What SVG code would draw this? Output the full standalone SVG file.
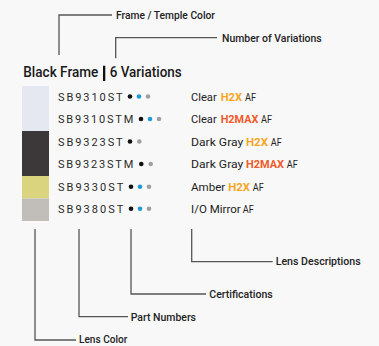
<svg xmlns="http://www.w3.org/2000/svg" width="379" height="346" viewBox="0 0 379 346">
<style>
.bg{fill:#f8f8f8}
.ln{fill:none;stroke:#555;stroke-width:1.3}
.lbl{font-family:Roboto,"Liberation Sans",sans-serif;font-size:10.5px;fill:#222;font-weight:500}
.ttl{font-family:Roboto,"Liberation Sans",sans-serif;font-size:14.5px;fill:#1a1a1a;font-weight:500}
.pn{font-family:Roboto,"Liberation Sans",sans-serif;font-size:11px;fill:#2a2a2a;font-weight:400}
.ds{font-family:Roboto,"Liberation Sans",sans-serif;font-size:11.5px;fill:#222}
.af{font-family:Roboto,"Liberation Sans",sans-serif;font-size:10px;fill:#222}
.h2x{font-family:Roboto,"Liberation Sans",sans-serif;font-size:11.5px;fill:#f7a51e;font-weight:bold}
.h2m{font-family:Roboto,"Liberation Sans",sans-serif;font-size:11.5px;fill:#f05a28;font-weight:bold}
.dk{fill:#111}.bl{fill:#1e9bd7}.gy{fill:#a0a0a0}
</style>
<rect class="bg" x="0" y="0" width="379" height="346"/>
<g id="connectors">
<polyline class="ln" points="59,55 59,15 112,15"/>
<polyline class="ln" points="115.7,58.3 115.7,37.7 217,37.7"/>
<polyline class="ln" points="35,229 35,340 76,340"/>
<polyline class="ln" points="79,229 79,316.7 128,316.7"/>
<polyline class="ln" points="131,229 131,294 206,294"/>
<polyline class="ln" points="191.7,229 191.7,261.7 272.7,261.7"/>
</g>
<g id="label-frame"><text class="lbl" x="116" y="19" textLength="99" lengthAdjust="spacingAndGlyphs">Frame / Temple Color</text></g>
<g id="label-variations"><text class="lbl" x="222" y="41.6" textLength="99.7" lengthAdjust="spacingAndGlyphs">Number of Variations</text></g>
<g id="label-desc"><text class="lbl" x="275.7" y="265" textLength="85" lengthAdjust="spacingAndGlyphs">Lens Descriptions</text></g>
<g id="label-cert"><text class="lbl" x="209.3" y="297.6" textLength="63.4" lengthAdjust="spacingAndGlyphs">Certifications</text></g>
<g id="label-part"><text class="lbl" x="130.7" y="320.5" textLength="65.3" lengthAdjust="spacingAndGlyphs">Part Numbers</text></g>
<g id="label-color"><text class="lbl" x="79" y="343.3" textLength="48.3" lengthAdjust="spacingAndGlyphs">Lens Color</text></g>
<g id="title">
<text class="ttl" x="23.3" y="77.3" textLength="75" lengthAdjust="spacingAndGlyphs">Black Frame</text>
<rect x="103" y="65.7" width="2.3" height="15.3" fill="#111"/>
<text class="ttl" x="109.7" y="77.3" textLength="72" lengthAdjust="spacingAndGlyphs">6 Variations</text>
</g>
<g id="swatches">
<rect x="22" y="86" width="27" height="45" fill="#e5e7f1"/>
<rect x="22" y="131" width="27" height="45" fill="#3c3839"/>
<rect x="22" y="176" width="27" height="22.5" fill="#dbd47e"/>
<rect x="22" y="198.5" width="27" height="22.5" fill="#c1beb9"/>
</g>
<g id="row1">
<text class="pn" x="58" y="100.7" textLength="64.7" lengthAdjust="spacing">SB9310ST</text>
<circle class="dk" cx="130" cy="96.5" r="2.3"/><circle class="bl" cx="139" cy="96.5" r="2.3"/><circle class="gy" cx="148" cy="96.5" r="2.3"/>
<text class="ds" x="191" y="101" textLength="25.7" lengthAdjust="spacingAndGlyphs">Clear</text>
<text class="h2x" x="220.7" y="101" textLength="21.3" lengthAdjust="spacingAndGlyphs">H2X</text>
<text class="af" x="245" y="101" textLength="11" lengthAdjust="spacingAndGlyphs">AF</text>
</g>
<g id="row2">
<text class="pn" x="58" y="123.3" textLength="75.3" lengthAdjust="spacing">SB9310STM</text>
<circle class="dk" cx="141" cy="119" r="2.3"/><circle class="bl" cx="150" cy="119" r="2.3"/><circle class="gy" cx="159" cy="119" r="2.3"/>
<text class="ds" x="191" y="123.4" textLength="25.7" lengthAdjust="spacingAndGlyphs">Clear</text>
<text class="h2m" x="220.7" y="123.4" textLength="37.6" lengthAdjust="spacingAndGlyphs">H2MAX</text>
<text class="af" x="261" y="123.4" textLength="11" lengthAdjust="spacingAndGlyphs">AF</text>
</g>
<g id="row3">
<text class="pn" x="58" y="145.7" textLength="64.7" lengthAdjust="spacing">SB9323ST</text>
<circle class="dk" cx="130" cy="141.5" r="2.3"/><circle class="gy" cx="139.3" cy="141.5" r="2.3"/>
<text class="ds" x="191" y="145.8" textLength="52.3" lengthAdjust="spacingAndGlyphs">Dark Gray</text>
<text class="h2x" x="246" y="145.8" textLength="22" lengthAdjust="spacingAndGlyphs">H2X</text>
<text class="af" x="270.7" y="145.8" textLength="11" lengthAdjust="spacingAndGlyphs">AF</text>
</g>
<g id="row4">
<text class="pn" x="58" y="168" textLength="75.3" lengthAdjust="spacing">SB9323STM</text>
<circle class="dk" cx="141.3" cy="164" r="2.3"/><circle class="gy" cx="150.7" cy="164" r="2.3"/>
<text class="ds" x="191" y="168.2" textLength="52.3" lengthAdjust="spacingAndGlyphs">Dark Gray</text>
<text class="h2m" x="246" y="168.2" textLength="38" lengthAdjust="spacingAndGlyphs">H2MAX</text>
<text class="af" x="286.7" y="168.2" textLength="11" lengthAdjust="spacingAndGlyphs">AF</text>
</g>
<g id="row5">
<text class="pn" x="58" y="190.7" textLength="65.3" lengthAdjust="spacing">SB9330ST</text>
<circle class="dk" cx="131" cy="186.7" r="2.3"/><circle class="bl" cx="140" cy="186.7" r="2.3"/><circle class="gy" cx="149" cy="186.7" r="2.3"/>
<text class="ds" x="191" y="190.8" textLength="34.3" lengthAdjust="spacingAndGlyphs">Amber</text>
<text class="h2x" x="228.3" y="190.8" textLength="21.7" lengthAdjust="spacingAndGlyphs">H2X</text>
<text class="af" x="252.7" y="190.8" textLength="11" lengthAdjust="spacingAndGlyphs">AF</text>
</g>
<g id="row6">
<text class="pn" x="58" y="212.7" textLength="65.3" lengthAdjust="spacing">SB9380ST</text>
<circle class="dk" cx="131" cy="208.7" r="2.3"/><circle class="bl" cx="140" cy="208.7" r="2.3"/><circle class="gy" cx="149" cy="208.7" r="2.3"/>
<text class="ds" x="191" y="212.8" textLength="49.7" lengthAdjust="spacingAndGlyphs">I/O Mirror</text>
<text class="af" x="242.7" y="212.8" textLength="11" lengthAdjust="spacingAndGlyphs">AF</text>
</g>
</svg>
